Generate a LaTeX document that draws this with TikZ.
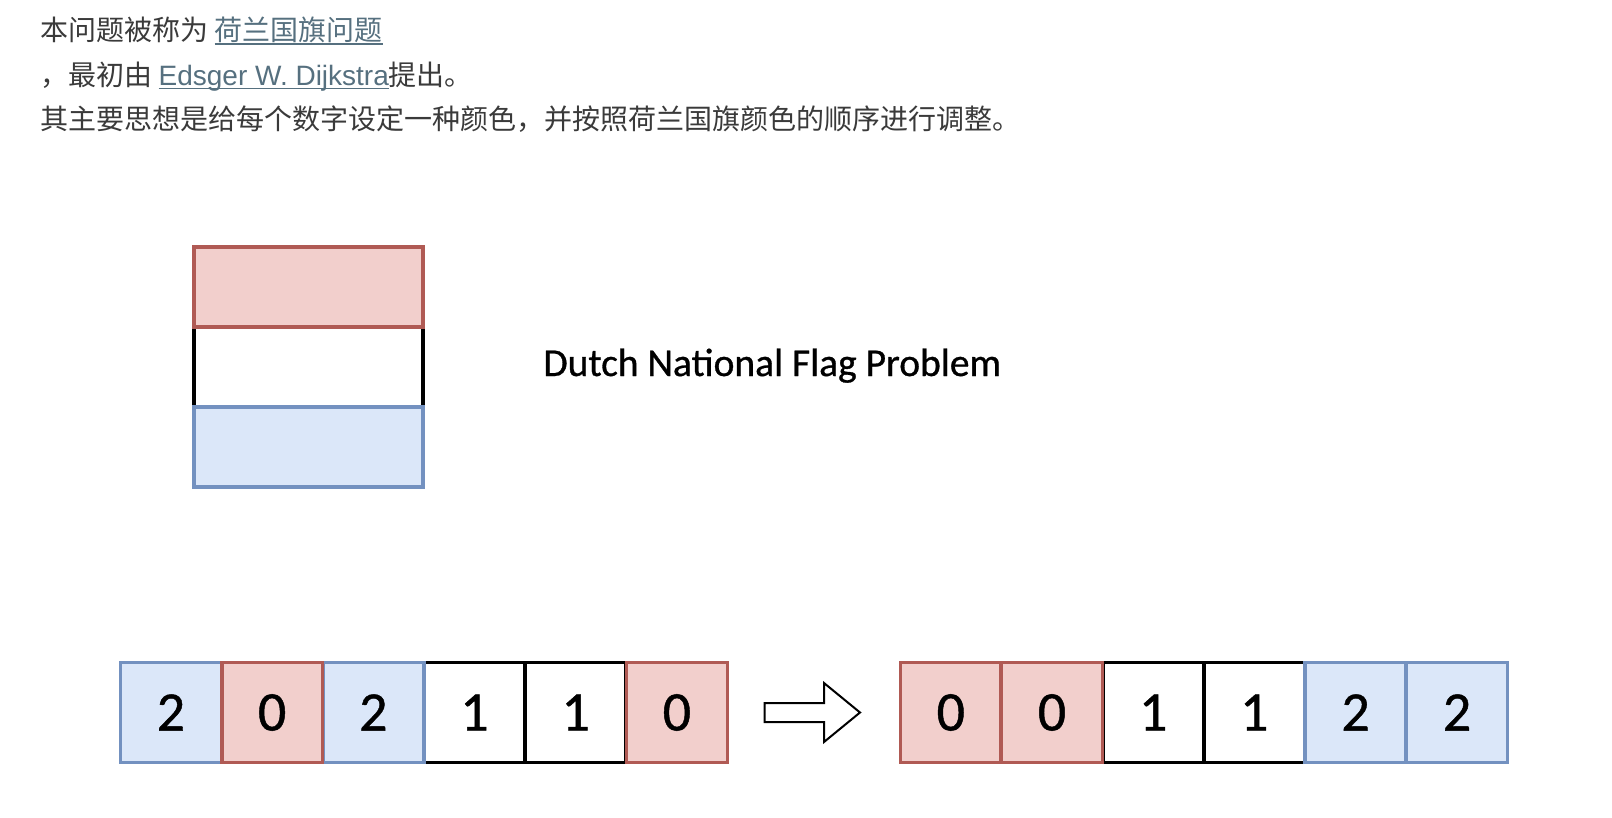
\documentclass[tikz,border=0pt]{standalone}
\usepackage{fontspec}
\setmainfont{Noto Sans CJK SC}
\newfontfamily\latinfont{Liberation Sans}
\newfontfamily\handfont[FakeBold=0.8]{Carlito}

\definecolor{redfill}{HTML}{F2CFCC}
\definecolor{reddraw}{HTML}{B05A54}
\definecolor{bluefill}{HTML}{DBE7F9}
\definecolor{bluedraw}{HTML}{7391C0}
\definecolor{bodytext}{HTML}{3A3A3A}
\definecolor{linktext}{HTML}{56707F}

\newcommand{\linkline}[1]{\textcolor{linktext}{\setbox0\hbox{#1}\rlap{\rule[-4pt]{\wd0}{1.6pt}}\box0}}

\tikzset{every picture/.style={line width=0.75pt}}
\tikzset{
  bodyline/.style={anchor=base west,inner sep=0pt,text=bodytext,font=\fontsize{28}{28}\selectfont},
  cellbase/.style={minimum width=100.8pt,minimum height=100pt,inner sep=0pt,line width=3.6pt,font=\handfont\fontsize{56}{56}\selectfont},
  redcell/.style={cellbase,draw=reddraw,fill=redfill},
  bluecell/.style={cellbase,draw=bluedraw,fill=bluefill},
  whitecell/.style={cellbase,draw=black,fill=white},
  redband/.style={redcell,minimum width=228.5pt,minimum height=80pt},
  blueband/.style={bluecell,minimum width=228.5pt,minimum height=80pt},
  whiteband/.style={whitecell,minimum width=228.5pt,minimum height=80pt}
}

\begin{document}
\begin{tikzpicture}[x=1pt,y=1pt,yscale=-1,xscale=1]
\useasboundingbox (0,0) rectangle (1612,818);

% Text Node
\node [bodyline] (line1) at (40,41) {本问题被称为 \linkline{荷兰国旗问题}};
% Text Node
\node [bodyline] (line2) at (40,85.5) {，最初由 \linkline{\latinfont Edsger W. Dijkstra}提出。};
% Text Node
\node [bodyline] (line3) at (40,130) {其主要思想是给每个数字设定一种颜色，并按照荷兰国旗颜色的顺序进行调整。};

%Shape: Rectangle
\node [whiteband] (flagwhite) at (308.5,367) {};
\node [redband] (flagred) at (308.5,287) {};
\node [blueband] (flagblue) at (308.5,447) {};
% Text Node
\node [anchor=base west,inner sep=0pt,font=\handfont\fontsize{39.5}{39.5}\selectfont] (title) at (543,376) {Dutch National Flag Problem};

%Shape: Rectangle
\node [whitecell] (left3) at (474.5,712.5) {1};
\node [whitecell] (left4) at (575.7,712.5) {1};
\node [bluecell] (left0) at (170.9,712.5) {2};
\node [bluecell] (left2) at (373.3,712.5) {2};
\node [redcell] (left1) at (272.1,712.5) {0};
\node [redcell] (left5) at (676.9,712.5) {0};

%Shape: Right Arrow
\draw [line width=2pt,line join=miter,fill=white] (764.5,703) -- (824,703) -- (824,683) -- (860,712.5) -- (824,742) -- (824,722) -- (764.5,722) -- cycle ;

%Shape: Rectangle
\node [whitecell] (right2) at (1153.2,712.5) {1};
\node [whitecell] (right3) at (1254.3,712.5) {1};
\node [redcell] (right0) at (950.8,712.5) {0};
\node [redcell] (right1) at (1052,712.5) {0};
\node [bluecell] (right4) at (1355.6,712.5) {2};
\node [bluecell] (right5) at (1457,712.5) {2};

\end{tikzpicture}
\end{document}
